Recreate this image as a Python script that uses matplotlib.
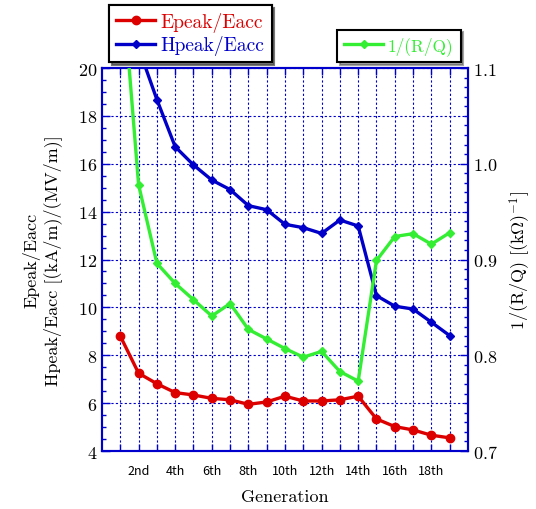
import numpy as np
import matplotlib
matplotlib.use("Agg")
import matplotlib.pyplot as plt
from matplotlib.ticker import MultipleLocator, FixedLocator

plt.rcParams['font.family'] = 'serif'
plt.rcParams['font.serif'] = ['cmr10', 'DejaVu Serif']
plt.rcParams['mathtext.fontset'] = 'cm'
plt.rcParams['axes.formatter.use_mathtext'] = True

generations = list(range(1, 20))
gen_labels = ['', '2nd', '', '4th', '', '6th', '', '8th', '', '10th', '', '12th', '', '14th', '', '16th', '', '18th', '']
epeak = [8.8, 7.25, 6.81, 6.44, 6.34, 6.20, 6.14, 5.95, 6.05, 6.29, 6.09, 6.09, 6.14, 6.29, 5.34, 5.02, 4.88, 4.66, 4.55]
hpeak = [23.5, 20.84, 18.68, 16.71, 15.95, 15.32, 14.92, 14.25, 14.08, 13.47, 13.33, 13.09, 13.65, 13.40, 10.49, 10.05, 9.93, 9.38, 8.82]
inv_rq = [1.215, 0.978, 0.896, 0.875, 0.858, 0.841, 0.854, 0.827, 0.817, 0.807, 0.798, 0.804, 0.783, 0.773, 0.899, 0.924, 0.927, 0.916, 0.928]

RED = '#dd0000'
BLUE = '#0000c8'
GREEN = '#33ee33'
AXC = '#0000cc'

fig = plt.figure(figsize=(5.36, 5.10), dpi=100)
ax = fig.add_axes([0.1903, 0.1137, 0.6828, 0.751])
ax2 = ax.twinx()

l1, = ax.plot(generations, epeak, color=RED, lw=2.4, marker='o', ms=6, label='Epeak/Eacc', zorder=5)
l2, = ax.plot(generations, hpeak, color=BLUE, lw=2.4, marker='D', ms=4, label='Hpeak/Eacc', zorder=5)
l3, = ax2.plot(generations, inv_rq, color=GREEN, lw=2.4, marker='D', ms=4, label='1/(R/Q)', zorder=5)

ax.set_xlim(0, 20)
ax.set_ylim(4, 20)
ax2.set_ylim(0.7, 1.1)

ax.xaxis.set_major_locator(FixedLocator(generations))
ax.set_xticklabels(gen_labels, family=['Noto Sans CJK JP', 'DejaVu Sans'], fontsize=9)
ax.yaxis.set_major_locator(MultipleLocator(2))
ax.yaxis.set_minor_locator(MultipleLocator(0.5))
ax2.yaxis.set_major_locator(MultipleLocator(0.1))
ax2.yaxis.set_minor_locator(MultipleLocator(0.01))

ax.grid(True, which='major', color=AXC, ls=(0, (2, 2)), lw=0.8)
ax.tick_params(axis='x', which='major', direction='in', top=True, length=5, color=AXC, width=1, pad=9)
ax.tick_params(axis='y', which='major', direction='in', length=6, color=AXC, width=1, labelsize=13)
ax.tick_params(axis='y', which='minor', direction='in', length=3, color=AXC, width=1)
ax2.tick_params(axis='y', which='major', direction='in', length=6, color=AXC, width=1, labelsize=13)
ax2.tick_params(axis='y', which='minor', direction='in', length=3, color=AXC, width=1)
for a in (ax, ax2):
    for s in a.spines.values():
        s.set_color(AXC)
        s.set_linewidth(1.5)

ax.set_ylabel('Epeak/Eacc\nHpeak/Eacc [(kA/m)/(MV/m)]', fontsize=13, labelpad=11, linespacing=1.2)
ax2.set_ylabel(r'1/(R/Q) [(k$\Omega$)$^{-1}$]', fontsize=13, labelpad=7)
ax.set_xlabel('Generation', fontsize=13, labelpad=9)

leg1 = ax.legend(handles=[l1, l2], loc='lower left', bbox_to_anchor=(0.02, 1.015), fontsize=14,
                 frameon=True, fancybox=False, shadow=True, handlelength=2.0, borderpad=0.35,
                 labelspacing=0.2, handletextpad=0.3, borderaxespad=0)
leg1.get_frame().set_edgecolor('black')
leg1.get_frame().set_linewidth(1.5)
for t, c in zip(leg1.get_texts(), [RED, BLUE]):
    t.set_color(c)
ax.add_artist(leg1)
leg2 = ax2.legend(handles=[l3], loc='lower right', bbox_to_anchor=(0.98, 1.015), fontsize=12.5,
                  frameon=True, fancybox=False, shadow=True, handlelength=2.2, borderpad=0.4,
                  handletextpad=0.3, borderaxespad=0)
leg2.get_frame().set_edgecolor('black')
leg2.get_frame().set_linewidth(1.5)
leg2.get_texts()[0].set_color(GREEN)

fig.savefig('out.png', dpi=100)
